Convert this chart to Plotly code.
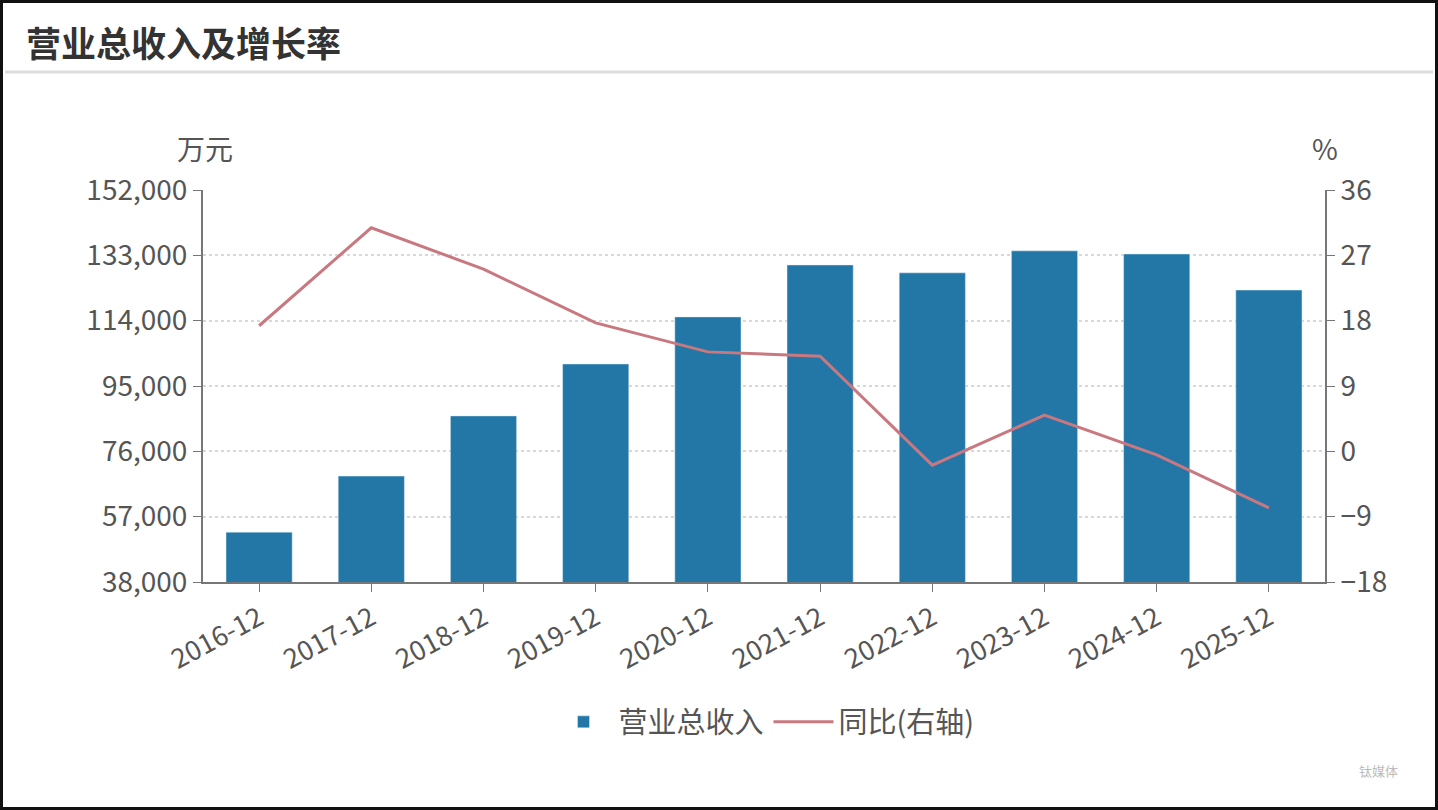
import plotly.graph_objects as go

years = ['2016-12', '2017-12', '2018-12', '2019-12', '2020-12',
         '2021-12', '2022-12', '2023-12', '2024-12', '2025-12']
revenue = [52500, 68800, 86300, 101400, 115100, 130200, 127900, 134300, 133400, 122900]
yoy = [17.3, 30.8, 25.1, 17.7, 13.7, 13.1, -1.9, 5.0, -0.5, -7.8]

left_ticks = [38000, 57000, 76000, 95000, 114000, 133000, 152000]
right_ticks = [-18, -9, 0, 9, 18, 27, 36]

bar_color = '#2277a7'
line_color = '#c97880'
axis_color = '#777777'
font_cn = 'Noto Sans CJK SC'

fig = go.Figure()
fig.add_trace(go.Bar(x=years, y=revenue, name='营业总收入', marker_color=bar_color,
                     width=0.59, yaxis='y'))
fig.add_trace(go.Scatter(x=years, y=yoy, name='同比(右轴)', mode='lines',
                         line=dict(color=line_color, width=3), yaxis='y2'))

# plot area 203..1325 x, 190..582 y
L, R, T, B = 203, 113, 190, 228
W, H = 1438, 810
pw, ph = W - L - R, H - T - B


def px(x):
    return (x - L) / pw


def py(y):
    return (H - B - y) / ph


fig.update_layout(
    width=W, height=H,
    margin=dict(l=L, r=R, t=T, b=B),
    paper_bgcolor='white', plot_bgcolor='white',
    font=dict(family=font_cn, size=24, color='#555555'),
    showlegend=True,
    legend=dict(orientation='h', x=0.5, xanchor='center', y=py(722), yanchor='middle',
                font=dict(size=29, color='#555555'), itemwidth=60),
    xaxis=dict(type='category', showline=True, linecolor=axis_color, linewidth=2,
               ticks='outside', tickcolor=axis_color, ticklen=8, tickangle=-28,
               tickfont=dict(size=27, color='#555555'), showgrid=False),
    yaxis=dict(range=[38000, 152000], tickvals=left_ticks, tickformat=',d',
               showline=True, linecolor=axis_color, linewidth=2, ticks='outside',
               tickcolor=axis_color, ticklen=8, showgrid=True, gridcolor='#d8d8d8',
               griddash='dot', gridwidth=1.5, zeroline=False,
               tickfont=dict(size=28, color='#555555')),
    yaxis2=dict(range=[-18, 36], tickvals=right_ticks, overlaying='y', side='right',
                showline=True, linecolor=axis_color, linewidth=2, ticks='outside',
                tickcolor=axis_color, ticklen=8, showgrid=False, zeroline=False,
                tickfont=dict(size=28, color='#555555')),
)

fig.add_annotation(text='<b>营业总收入及增长率</b>', xref='paper', yref='paper',
                   x=px(24), y=py(42), xanchor='left', yanchor='middle', showarrow=False,
                   font=dict(size=35, color='#333333', family=font_cn))
fig.add_annotation(text='万元', xref='paper', yref='paper', x=px(205), y=py(148),
                   xanchor='center', yanchor='middle', showarrow=False,
                   font=dict(size=28, color='#555555'))
fig.add_annotation(text='%', xref='paper', yref='paper', x=px(1325), y=py(148),
                   xanchor='center', yanchor='middle', showarrow=False,
                   font=dict(size=28, color='#555555'))
fig.add_annotation(text='钛媒体', xref='paper', yref='paper', x=px(1400), y=py(770),
                   xanchor='right', yanchor='middle', showarrow=False,
                   font=dict(size=13, color='#bbbbbb'))

# separator under the title
fig.add_shape(type='line', xref='paper', yref='paper', x0=px(5), x1=px(1433),
              y0=py(72), y1=py(72), line=dict(color='#dddddd', width=3))
# outer frame
fig.add_shape(type='rect', xref='paper', yref='paper', x0=px(1.5), x1=px(1436.5),
              y0=py(1.5), y1=py(808.5), line=dict(color='#111111', width=3))

fig.write_html('out.html', config={'displayModeBar': False},
               post_script="document.body.style.margin='0';")
